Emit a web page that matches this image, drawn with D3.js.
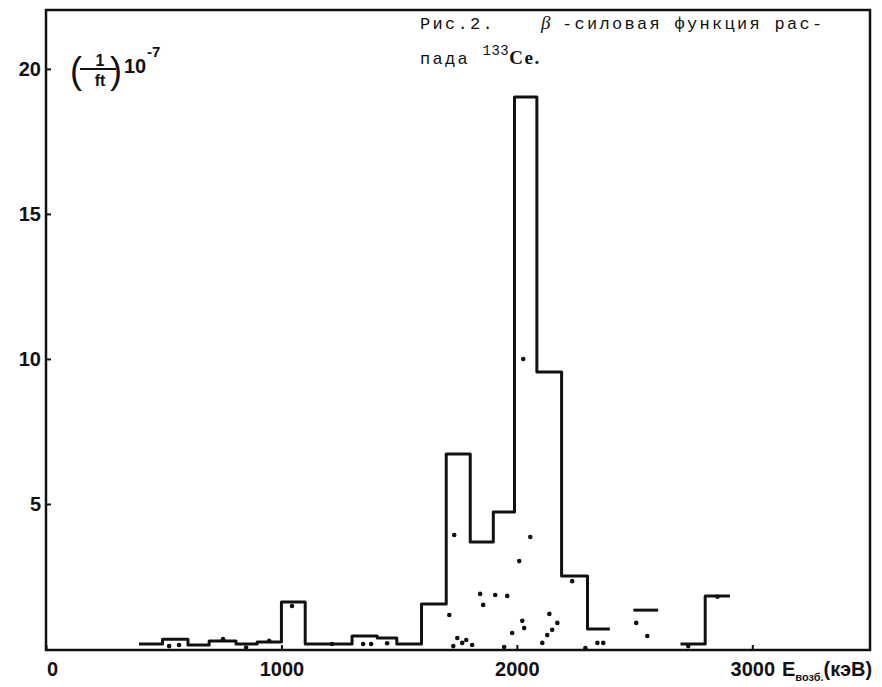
<!DOCTYPE html>
<html>
<head>
<meta charset="utf-8">
<script src="https://cdn.jsdelivr.net/npm/d3@7"></script>
<style>
body{margin:0;background:#fff;}
svg{display:block;}
.axis text{font-family:"Liberation Sans",Arial,sans-serif;font-weight:bold;font-size:20px;fill:#111;}
.axis line{stroke:#111;stroke-width:2;}
</style>
</head>
<body>
<svg id="chart" width="882" height="687"></svg>
<script>
// энергии границ шагов (кэВ) и высоты ступенек, (1/ft)*10^-7
const mainEdges = [395, 495, 603, 693, 807, 897, 1000, 1101, 1300, 1407, 1490, 1595, 1700, 1802, 1900, 1990, 2085, 2190, 2300, 2395];
const mainValues = [0.17, 0.34, 0.14, 0.28, 0.17, 0.24, 1.62, 0.17, 0.45, 0.38, 0.17, 1.55, 6.72, 3.69, 4.72, 19.03, 9.55, 2.52, 0.69];
const edges2 = [2495, 2600];
const values2 = [1.34];
const edges3 = [2695, 2800, 2905];
const values3 = [0.17, 1.83];
// точки
const dotE = [2027, 1734, 2057, 2010, 2235, 1844, 1908, 1959, 1857, 1713, 2138, 2023, 2031, 2172, 2150, 2129, 1980, 2108, 1946, 1747, 1730, 1785, 1768, 1810, 2291, 2342, 2367, 2507, 2554, 2728, 2852, 1045, 523, 565, 752, 850, 948, 1215, 1347, 1381, 1449];
const dotV = [10.0, 3.93, 3.86, 3.03, 2.34, 1.90, 1.86, 1.83, 1.52, 1.17, 1.21, 0.97, 0.72, 0.90, 0.66, 0.48, 0.55, 0.21, 0.07, 0.38, 0.10, 0.31, 0.21, 0.14, 0.03, 0.21, 0.21, 0.90, 0.45, 0.10, 1.80, 1.48, 0.10, 0.14, 0.34, 0.05, 0.28, 0.17, 0.17, 0.17, 0.20];
const xTicks = [0, 1000, 2000, 3000];
const yTicks = [5, 10, 15, 20];

const svg = d3.select("#chart");
const mLeft = 46, mRight = 870, mTop = 10, mBottom = 649;
const x = d3.scaleLinear().domain([0, 3500]).range([mLeft, mRight]);
const y = d3.scaleLinear().domain([0, 22.03]).range([mBottom, mTop]);

//рамка
svg.append("rect")
	.attr("x", mLeft).attr("y", mTop)
	.attr("width", mRight - mLeft).attr("height", mBottom - mTop + 1)
	.attr("fill", "none").attr("stroke", "#111").attr("stroke-width", 2.5);

//оси
const axisX = d3.axisBottom(x).tickValues(xTicks).tickSizeInner(-5).tickSizeOuter(0).tickPadding(12).tickFormat(d3.format("d"));
const gx = svg.append("g").attr("class", "axis").attr("transform", `translate(0,${mBottom + 1})`).call(axisX);
gx.select(".domain").remove();
gx.selectAll(".tick").filter(d => d === 0).select("text").attr("dx", 6);

const axisY = d3.axisLeft(y).tickValues(yTicks).tickSizeInner(-5).tickSizeOuter(0).tickPadding(5);
const gy = svg.append("g").attr("class", "axis").attr("transform", `translate(${mLeft},0)`).call(axisY);
gy.select(".domain").remove();

//гистограмма
const line = d3.line().x(d => x(d[0])).y(d => y(d[1])).curve(d3.curveStepAfter);
function steps(edges, values){
	const pts = values.map((v, i) => [edges[i], v]);
	pts.push([edges[edges.length - 1], values[values.length - 1]]);
	return pts;
}
[[mainEdges, mainValues], [edges2, values2], [edges3, values3]].forEach(([e, v]) => {
	svg.append("path")
		.attr("d", line(steps(e, v)))
		.attr("fill", "none").attr("stroke", "#111").attr("stroke-width", 3)
		.attr("stroke-linejoin", "round");
});

svg.append("g").selectAll("circle")
	.data(dotE)
	.enter()
	.append("circle")
	.attr("cx", d => x(d))
	.attr("cy", (d, i) => y(dotV[i]))
	.attr("r", 2.3)
	.attr("fill", "#111");

//подпись оси Y
const ly = svg.append("g").attr("font-family", "Liberation Sans,Arial,sans-serif").attr("font-weight", "bold").attr("fill", "#111");
ly.append("text").attr("x", 70).attr("y", 83).attr("font-size", 36).attr("font-weight", "normal").text("(");
ly.append("text").attr("x", 100).attr("y", 66).attr("font-size", 16).attr("text-anchor", "middle").text("1");
ly.append("line").attr("x1", 80).attr("x2", 116).attr("y1", 69).attr("y2", 69).attr("stroke", "#111").attr("stroke-width", 2);
ly.append("text").attr("x", 100).attr("y", 86).attr("font-size", 16).attr("text-anchor", "middle").text("ft");
ly.append("text").attr("x", 110).attr("y", 83).attr("font-size", 36).attr("font-weight", "normal").text(")");
ly.append("text").attr("x", 124).attr("y", 73).attr("font-size", 20).text("10");
ly.append("text").attr("x", 147).attr("y", 57).attr("font-size", 15).text("-7");

//подпись оси X
const lx = svg.append("text").attr("x", 782).attr("y", 676)
	.attr("font-family", "Liberation Sans,Arial,sans-serif").attr("font-weight", "bold").attr("font-size", 20).attr("fill", "#111");
lx.append("tspan").text("E");
lx.append("tspan").attr("font-size", 11).attr("dy", 5).text("возб.");
lx.append("tspan").attr("dy", -5).text("(кэВ)");

//заголовок
const t = svg.append("g").attr("font-family", "Liberation Mono,Courier New,monospace").attr("font-size", 17).attr("fill", "#111");
const t1 = t.append("text").attr("x", 420).attr("y", 29).attr("letter-spacing", 2.3);
t1.append("tspan").text("Рис.2.");
t1.append("tspan").attr("x", 541).attr("font-family", "Liberation Serif,serif").attr("font-style", "italic").attr("font-size", 19).text("β");
t1.append("tspan").attr("x", 562).text("-силовая функция рас-");
const t2 = t.append("text").attr("x", 420).attr("y", 64).attr("letter-spacing", 2.3);
t2.append("tspan").text("пада ");
t2.append("tspan").attr("font-size", 14).attr("dy", -9).attr("letter-spacing", 0.5).text("133");
t2.append("tspan").attr("font-family", "Liberation Serif,serif").attr("font-weight", "bold").attr("font-size", 19).attr("dy", 9).attr("letter-spacing", 1.5).text("Ce.");
</script>
</body>
</html>
